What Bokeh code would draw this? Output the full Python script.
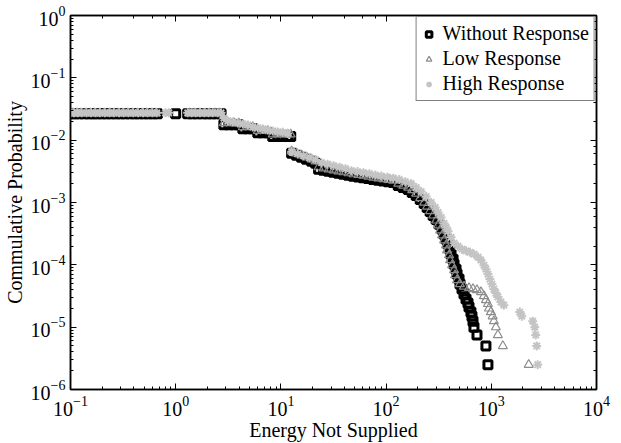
from bokeh.plotting import figure
from bokeh.models import LogAxis, Legend, LegendItem, LogTicker
from bokeh.embed import file_html
from bokeh.resources import INLINE

# ---- data (Energy Not Supplied vs. cumulative probability) ----
x_without = [0.100, 0.110, 0.120, 0.135, 0.150, 0.165, 0.180, 0.200, 0.220, 0.245,
             0.270, 0.300, 0.330, 0.370, 0.410, 0.450, 0.500, 0.550, 0.610, 0.670,
             1.00,
             1.30, 1.45, 1.60, 1.80, 2.00, 2.20, 2.45, 2.70,
             2.87, 3.20, 3.57, 3.98, 4.35, 4.85, 5.41, 6.03, 6.73, 7.50,
             8.36, 9.33, 10.4, 11.6, 12.4,
             12.65, 14.1, 15.7, 17.5, 19.6, 21.4,
             22.8, 25.4, 28.4, 31.6, 35.3, 39.3, 43.9, 48.9, 54.5, 60.8,
             67.8, 75.6, 84.4, 94.1, 104.9, 116.9,
             130.5, 145.5, 162.3, 177.1, 193.2, 210.9, 230.0, 245.6, 262.2, 279.9,
             298.8, 319.0, 340.6, 355.7, 371.5, 388.2, 405.5, 414.4, 432.9, 442.4,
             462.1, 472.3, 493.4, 504.3, 526.7, 550.2, 574.7, 600.3, 613.8,
             640, 655, 670, 684, 731, 889, 929]
y_without = [0.0265, 0.0265, 0.0265, 0.0265, 0.0265, 0.0265, 0.0265, 0.0265, 0.0265, 0.0265,
             0.0265, 0.0265, 0.0265, 0.0265, 0.0265, 0.0265, 0.0265, 0.0265, 0.0265, 0.0265,
             0.0265,
             0.0265, 0.0265, 0.0265, 0.0265, 0.0265, 0.0265, 0.0265, 0.0265,
             0.0176, 0.0176, 0.0176, 0.0176, 0.0152, 0.0152, 0.0152, 0.0131, 0.0131, 0.0131,
             0.0115, 0.0115, 0.0115, 0.0115, 0.0115,
             0.00617, 0.00573, 0.00532, 0.00494, 0.00459, 0.00427,
             0.003424, 0.0033, 0.00318, 0.00307, 0.002957, 0.00285, 0.002747, 0.002649, 0.00257, 0.002506,
             0.002416, 0.00233, 0.00227, 0.002204, 0.002148, 0.002086,
             0.001868, 0.001736, 0.001613, 0.001444, 0.001293, 0.001117, 0.000964, 0.000833, 0.000719, 0.000621,
             0.000536, 0.000446, 0.000371, 0.000309, 0.000257, 0.000214, 0.000178, 0.000148, 0.000123, 0.0001025,
             8.53e-5, 7.1e-5, 5.91e-5, 4.92e-5, 4.09e-5, 3.4e-5, 2.83e-5, 2.45e-5, 2.11e-5,
             1.75e-5, 1.5e-5, 1.25e-5, 1e-5, 7.5e-6, 5e-6, 2.5e-6]

x_low = [0.100, 0.105, 0.115, 0.125, 0.140, 0.155, 0.170, 0.190, 0.210, 0.235,
         0.260, 0.285, 0.315, 0.350, 0.390, 0.430, 0.480, 0.530, 0.590, 0.650,
         1.35, 1.50, 1.70, 1.90, 2.10, 2.35, 2.60,
         2.87, 3.20, 3.57, 3.98, 4.35, 4.85, 5.41, 6.03, 6.73, 7.50, 8.36, 9.33, 10.4, 11.6, 12.4,
         12.66, 14.11, 15.74, 17.55, 19.57, 21.36,
         22.8, 25.4, 28.4, 31.6, 35.3, 39.3, 43.9, 48.9, 54.5, 60.9, 67.9, 75.7, 84.4, 94.1, 104.9, 117.0,
         130.5, 145.5, 162.3, 177.1, 193.2, 210.9, 230.0, 245.6, 262.2, 279.9,
         298.8, 312.1, 326.1, 340.6, 355.7, 371.5, 379.7, 396.8, 405.5, 423.6, 442.4, 452.1, 472.3,
         504, 550, 614, 670, 730, 797, 851, 889, 929, 949, 991, 1030, 1058, 1106, 1155, 1288, 2270]
y_low = [0.0270, 0.0270, 0.0270, 0.0270, 0.0270, 0.0270, 0.0270, 0.0270, 0.0270, 0.0270,
         0.0270, 0.0270, 0.0270, 0.0270, 0.0270, 0.0270, 0.0270, 0.0270, 0.0270, 0.0270,
         0.0270, 0.0270, 0.0270, 0.0270, 0.0270, 0.0270, 0.0270,
         0.0189, 0.0189, 0.0189, 0.0186, 0.0163, 0.0163, 0.0163, 0.0141, 0.0141, 0.0141,
         0.0124, 0.0124, 0.0124, 0.0124, 0.0124,
         0.00664, 0.00617, 0.00573, 0.00532, 0.00495, 0.0046,
         0.00369, 0.00355, 0.003424, 0.0033, 0.00318, 0.00307, 0.002957, 0.00285, 0.00277, 0.0027,
         0.0026, 0.002506, 0.002443, 0.002373, 0.002312, 0.002245,
         0.00201, 0.001868, 0.001736, 0.001584, 0.001392, 0.00118, 0.001, 0.000864, 0.000732, 0.000621,
         0.000516, 0.00043, 0.000358, 0.000298, 0.000248, 0.000206, 0.000171, 0.000143, 0.000119, 9.88e-5,
         8.23e-5, 6.84e-5, 5.69e-5,
         4.92e-5, 4.49e-5, 4.25e-5, 4.1e-5, 3.95e-5, 3.66e-5, 3.16e-5, 2.73e-5, 2.36e-5, 2e-5,
         1.75e-5, 1.5e-5, 1.25e-5, 1e-5, 7.5e-6, 5e-6, 2.5e-6]

x_high = [0.100, 0.108, 0.117, 0.128, 0.142, 0.157, 0.173, 0.190, 0.212, 0.235,
          0.258, 0.290, 0.320, 0.355, 0.395, 0.440, 0.490, 0.540, 0.600, 0.660,
          0.80, 0.86,
          1.30, 1.42, 1.55, 1.70, 1.87, 2.05, 2.25, 2.50, 2.70,
          2.873, 3.135, 3.497, 3.899, 4.348, 4.849, 5.408, 6.031, 6.725, 7.499, 8.363, 9.326, 10.40, 11.60,
          12.66, 14.42, 16.44, 18.74, 21.36, 24.35, 27.76, 31.62, 36.05, 41.09,
          46.84, 53.40, 60.86, 69.38, 79.08, 90.1, 102.7, 117.0, 133.4, 152.0, 173.2,
          193.2, 215.4, 240.3, 267.9, 292.4, 312.1, 333.2, 355.7, 371.5, 388.2,
          414.4, 442.4, 482.7, 526.7, 574.7, 627.1, 684.3, 746.6, 797.2, 851.1,
          889.1, 928.7, 969.9, 1013, 1058, 1106, 1155, 1233, 1316,
          1866, 1949, 2477, 2588, 2645, 2703, 2762]
y_high = [0.0275, 0.0275, 0.0275, 0.0275, 0.0275, 0.0275, 0.0275, 0.0275, 0.0275, 0.0275,
          0.0275, 0.0275, 0.0275, 0.0275, 0.0275, 0.0275, 0.0275, 0.0275, 0.0275, 0.0275,
          0.0275, 0.0275,
          0.0275, 0.0275, 0.0275, 0.0275, 0.0275, 0.0275, 0.0275, 0.0275, 0.0275,
          0.02273, 0.02035, 0.01962, 0.01891, 0.01823, 0.01757, 0.01632, 0.01573, 0.01517, 0.01462,
          0.01409, 0.01358, 0.01334, 0.01285,
          0.00652, 0.00605, 0.00562, 0.00523, 0.00486, 0.00435, 0.00412, 0.0039, 0.00369, 0.00349,
          0.00324, 0.00313, 0.00301, 0.0029, 0.00275, 0.00265, 0.00255, 0.00246, 0.00233, 0.00216, 0.00201,
          0.001736, 0.0015, 0.001247, 0.001, 0.000833, 0.000693, 0.000576, 0.000462, 0.000399, 0.000345,
          0.000276, 0.000222, 0.000199, 0.000178, 0.000168, 0.000159, 0.000148, 0.000133, 0.000119, 9.88e-5,
          8.53e-5, 7.1e-5, 5.91e-5, 4.92e-5, 4.09e-5, 3.53e-5, 3.05e-5, 2.54e-5, 2.25e-5,
          1.75e-5, 1.5e-5, 1.25e-5, 1e-5, 7.5e-6, 5e-6, 2.5e-6]

series_names = ["Without Response", "Low Response", "High Response"]
x_label = "Energy Not Supplied"
y_label = "Commulative Probability"

FONT = "Liberation Serif"
C_BLACK = "#000000"
C_MID = "#8c8c8c"
C_LIGHT = "#c4c4c4"

p = figure(width=621, height=443, x_axis_type="log", y_axis_type="log",
           x_range=(0.1, 1e4), y_range=(1e-6, 1),
           output_backend="svg", toolbar_location=None,
           min_border_left=68, min_border_right=25, min_border_top=15, min_border_bottom=52,
           background_fill_color="white", border_fill_color="white")
p.xgrid.visible = False
p.ygrid.visible = False
p.outline_line_color = "black"
p.outline_line_width = 1.5

r1 = p.scatter(x_without, y_without, marker="square", size=8, fill_color=None,
               line_color=C_BLACK, line_width=3)
r2 = p.scatter(x_low, y_low, marker="triangle", size=9, fill_color=None,
               line_color=C_MID, line_width=1.2)
r3 = p.scatter(x_high, y_high, marker="asterisk", size=9,
               line_color=C_LIGHT, line_width=2.0)

def style_axis(ax, show_labels=True):
    ax.axis_line_color = "black"
    ax.axis_line_width = 1.5
    ax.major_tick_in = 6
    ax.major_tick_out = 0
    ax.minor_tick_in = 3
    ax.minor_tick_out = 0
    ax.major_tick_line_color = "black"
    ax.minor_tick_line_color = "black"
    ax.major_label_text_font = FONT
    if show_labels:
        ax.major_label_text_color = "black"
        ax.major_label_text_font_size = "20px"
    else:
        ax.major_label_text_alpha = 0
        ax.major_label_text_font_size = "2px"
        ax.major_label_standoff = 0

for ax in p.xaxis:
    style_axis(ax)
    ax.major_label_standoff = 6
    ax.axis_label = x_label
    ax.axis_label_text_font = FONT
    ax.axis_label_text_color = "black"
    ax.axis_label_text_font_style = "normal"
    ax.axis_label_text_font_size = "20px"
    ax.axis_label_standoff = 0
for ax in p.yaxis:
    style_axis(ax)
    ax.major_label_standoff = 5
    ax.axis_label = y_label
    ax.axis_label_text_font = FONT
    ax.axis_label_text_color = "black"
    ax.axis_label_text_font_style = "normal"
    ax.axis_label_text_font_size = "20px"
    ax.axis_label_standoff = 2

top_ax = LogAxis(ticker=LogTicker())
style_axis(top_ax, show_labels=False)
p.add_layout(top_ax, "above")
right_ax = LogAxis(ticker=LogTicker())
style_axis(right_ax, show_labels=False)
p.add_layout(right_ax, "right")

legend = Legend(items=[LegendItem(label=series_names[0], renderers=[r1]),
                       LegendItem(label=series_names[1], renderers=[r2]),
                       LegendItem(label=series_names[2], renderers=[r3])],
                location="top_right")
legend.label_text_font = FONT
legend.label_text_font_size = "20px"
legend.label_text_color = "black"
legend.border_line_color = "black"
legend.border_line_width = 1.2
legend.background_fill_color = "white"
legend.background_fill_alpha = 1.0
legend.margin = 1
legend.padding = 5
legend.spacing = 2
legend.glyph_width = 14
legend.glyph_height = 22
legend.label_height = 22
legend.label_standoff = 7
p.add_layout(legend)

open("out.html", "w").write(file_html(p, INLINE))
